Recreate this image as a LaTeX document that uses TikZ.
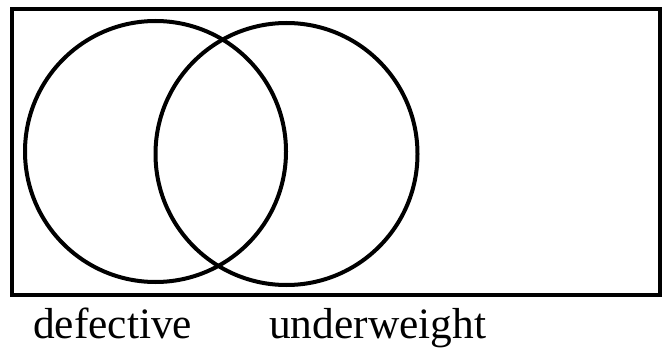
\documentclass[tikz,border=0pt]{standalone}
\usepackage{fontspec}
\setmainfont{Liberation Serif}
\usepackage{tikz}
\definecolor{venndark}{HTML}{000000}
\newcommand{\venntext}{\fontsize{43.4}{50}\selectfont}

\begin{document}
\begin{tikzpicture}[x=1pt,y=1pt,font=\venntext]
\useasboundingbox (0,0) rectangle (664,349);
\node[draw=venndark,line width=4pt,minimum width=648.5pt,minimum height=286pt,inner sep=0pt] (universe) at (335.75,197) {};
\node[draw=venndark,circle,line width=4pt,minimum size=261pt,inner sep=0pt] (defect) at (155.5,197.5) {};
\node[draw=venndark,circle,line width=4pt,minimum size=262pt,inner sep=0pt] (under) at (286.5,195) {};
\node[anchor=base west,inner sep=0pt] (defectlabel) at (33,11) {defective};
\node[anchor=base west,inner sep=0pt] (underlabel) at (269,11) {underweight};
\end{tikzpicture}
\end{document}
